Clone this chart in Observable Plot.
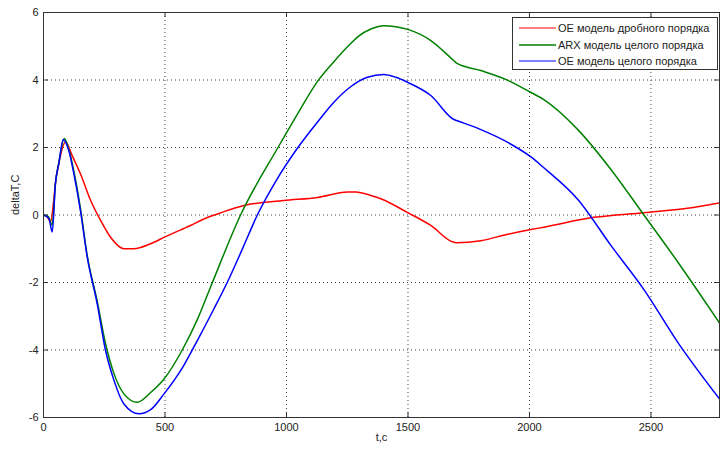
<!DOCTYPE html>
<html><head><meta charset="utf-8">
<script src="https://cdn.jsdelivr.net/npm/d3@7"></script>
<script src="https://cdn.jsdelivr.net/npm/@observablehq/plot@0.6"></script>
<style>
body{margin:0;background:#fff;}
#chart{position:relative;width:720px;height:452px;font-family:"Liberation Sans",Arial,sans-serif;}
#legend{position:absolute;left:512px;top:17px;}
</style></head><body><div id="chart"></div>
<script>
// Series names (legend)
const seriesNames = ["OE модель дробного порядка", "ARX модель целого порядка", "OE модель целого порядка"];
const seriesColors = ["#ff0000", "#008000", "#0000ff"];

// OE fractional order (red)
const redT = [0, 15, 29, 42, 49, 63, 91, 118, 152, 194, 235, 276, 331, 372, 441, 500, 577, 605, 660, 716, 743, 825, 988, 1128, 1251, 1285, 1347, 1388, 1499, 1594, 1689, 1700, 1800, 1911, 2006, 2059, 2265, 2471, 2650, 2782];
const redV = [0, -0.05, -0.21, 0.43, 0.93, 1.52, 2.16, 1.76, 1.22, 0.43, -0.16, -0.66, -1.0, -1.0, -0.85, -0.65, -0.4, -0.31, -0.12, 0.03, 0.1, 0.28, 0.43, 0.52, 0.68, 0.68, 0.58, 0.48, 0.07, -0.31, -0.81, -0.82, -0.76, -0.57, -0.43, -0.36, -0.07, 0.07, 0.2, 0.36];

// ARX integer order (green)
const greenT = [0, 20, 36, 49, 63, 86, 104, 125, 152, 180, 221, 255, 290, 331, 386, 441, 496, 571, 633, 695, 811, 965, 1050, 1127, 1196, 1264, 1293, 1350, 1400, 1450, 1499, 1594, 1689, 1700, 1800, 1911, 2006, 2059, 2199, 2335, 2471, 2611, 2782];
const greenV = [0, -0.05, -0.3, 0.93, 1.55, 2.27, 1.95, 1.3, 0.2, -1.2, -2.55, -3.8, -4.7, -5.3, -5.55, -5.26, -4.86, -4.0, -3.1, -2.0, 0.0, 2.0, 3.05, 3.95, 4.55, 5.08, 5.28, 5.52, 5.61, 5.58, 5.5, 5.17, 4.57, 4.5, 4.28, 3.99, 3.63, 3.42, 2.53, 1.35, 0.0, -1.4, -3.2];

// OE integer order (blue)
const blueT = [0, 22, 36, 49, 63, 81, 104, 125, 152, 180, 221, 255, 290, 331, 393, 441, 496, 577, 633, 700, 756, 820, 880, 960, 1047, 1127, 1196, 1264, 1333, 1400, 1450, 1499, 1594, 1689, 1700, 1800, 1911, 2006, 2059, 2199, 2335, 2471, 2611, 2782];
const blueV = [0, -0.1, -0.5, 0.93, 1.52, 2.24, 1.91, 1.22, 0.13, -1.25, -2.63, -4.0, -4.9, -5.6, -5.89, -5.77, -5.3, -4.46, -3.72, -2.8, -2.0, -0.98, 0.0, 1.05, 2.0, 2.75, 3.35, 3.8, 4.08, 4.16, 4.08, 3.93, 3.54, 2.83, 2.8, 2.53, 2.15, 1.72, 1.4, 0.46, -0.9, -2.21, -3.78, -5.45];

// Axes
const xTicks = [0, 500, 1000, 1500, 2000, 2500];
const yTicks = [-6, -4, -2, 0, 2, 4, 6];
const xDomain = [0, 2782];
const yDomain = [-6, 6];
const xLabel = "t,c";
const yLabel = "deltaT,C";

const rows = [];
[[redT, redV], [greenT, greenV], [blueT, blueV]].forEach(([ts, vs], k) => {
  ts.forEach((t, i) => rows.push({series: seriesNames[k], t, v: vs[i]}));
});

const W = 720, H = 452, mL = 43, mR = 1, mT = 12, mB = 35;
const pw = W - mL - mR, ph = H - mT - mB;
const tick = 5;

const chart = Plot.plot({
  width: W, height: H,
  marginLeft: mL, marginRight: mR, marginTop: mT, marginBottom: mB,
  style: {fontFamily: "Liberation Sans, Arial, sans-serif", fontSize: "11px", background: "#fff", color: "#222"},
  x: {domain: xDomain},
  y: {domain: yDomain},
  color: {domain: seriesNames, range: seriesColors},
  marks: [
    Plot.gridX(xTicks, {stroke: "#000", strokeOpacity: 0.75, strokeDasharray: "1,3", strokeWidth: 1}),
    Plot.gridY(yTicks, {stroke: "#000", strokeOpacity: 0.75, strokeDasharray: "1,3", strokeWidth: 1}),
    Plot.line(rows, {x: "t", y: "v", z: "series", stroke: "series", strokeWidth: 1.5, curve: "monotone-x", clip: true}),
    Plot.frame({stroke: "#333", strokeWidth: 1}),
    Plot.ruleX(xTicks, {x: d => d, insetTop: ph - tick, stroke: "#333"}),
    Plot.ruleX(xTicks, {x: d => d, insetBottom: ph - tick, stroke: "#333"}),
    Plot.ruleY(yTicks, {y: d => d, insetRight: pw - tick, stroke: "#333"}),
    Plot.ruleY(yTicks, {y: d => d, insetLeft: pw - tick, stroke: "#333"}),
    Plot.axisX(xTicks, {tickSize: 0, tickPadding: 6, label: null, tickFormat: d => String(d)}),
    Plot.axisY(yTicks, {tickSize: 0, tickPadding: 5, label: null, tickFormat: d => String(d)}),
    Plot.text([yLabel], {frameAnchor: "left", text: d => d, rotate: -90, dx: -28, fill: "#222"}),
    Plot.text([xLabel], {frameAnchor: "bottom", text: d => d, dy: 23, fill: "#222"})
  ]
});
const host = document.getElementById("chart");
host.appendChild(chart);

// Legend box inside plot area
const ns = "http://www.w3.org/2000/svg";
const lg = document.createElementNS(ns, "svg");
lg.setAttribute("id", "legend");
lg.setAttribute("width", 206);
lg.setAttribute("height", 53);
const rect = document.createElementNS(ns, "rect");
rect.setAttribute("x", 0.5); rect.setAttribute("y", 0.5);
rect.setAttribute("width", 205); rect.setAttribute("height", 52);
rect.setAttribute("fill", "#fff"); rect.setAttribute("stroke", "#333");
lg.appendChild(rect);
const rowY = [11, 28, 44];
seriesNames.forEach((name, i) => {
  const ln = document.createElementNS(ns, "line");
  ln.setAttribute("x1", 7); ln.setAttribute("x2", 44);
  ln.setAttribute("y1", rowY[i]); ln.setAttribute("y2", rowY[i]);
  ln.setAttribute("stroke", seriesColors[i]);
  ln.setAttribute("stroke-width", i === 1 ? 1.6 : 1);
  lg.appendChild(ln);
  const tx = document.createElementNS(ns, "text");
  tx.setAttribute("x", 46); tx.setAttribute("y", rowY[i]);
  tx.setAttribute("dy", "0.35em");
  tx.setAttribute("font-size", "11px");
  tx.setAttribute("font-family", "Liberation Sans, Arial, sans-serif");
  tx.setAttribute("fill", "#222");
  tx.textContent = name;
  lg.appendChild(tx);
});
host.appendChild(lg);
</script></body></html>
